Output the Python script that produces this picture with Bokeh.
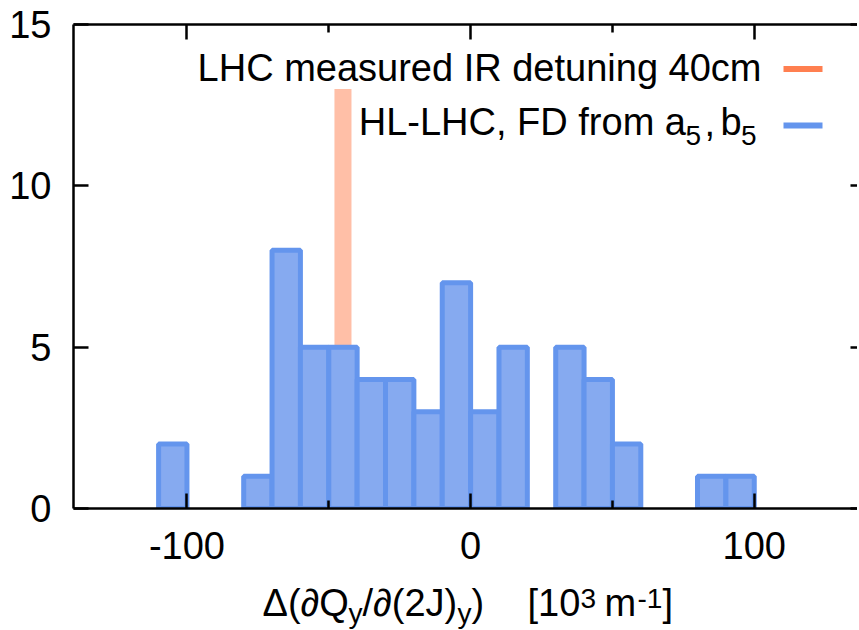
from bokeh.plotting import figure
from bokeh.layouts import column
from bokeh.models import LinearAxis, FixedTicker, Label, BoxAnnotation, Range1d
from bokeh.embed import file_html
from bokeh.resources import INLINE

# ---- data ----
bin_left = [-110, -80, -70, -60, -50, -40, -30, -20, -10, 0, 10, 30, 40, 50, 80, 90]
bin_right = [-100, -70, -60, -50, -40, -30, -20, -10, 0, 10, 20, 40, 50, 60, 90, 100]
counts = [2, 1, 8, 5, 5, 4, 4, 3, 7, 3, 5, 5, 4, 2, 1, 1]
lhc_detuning = [-45]
lhc_marker_height = [13]
x_major_ticks = [-100, 0, 100]
x_tick_labels = ["-100", "0", "100"]
x_minor_ticks = [-50, 50]
y_ticks = [0, 5, 10, 15]

FONT = "Liberation Sans"
BIG = "38px"
SMALL = "28px"
ORANGE = "#FF7F50"
BLUE_LINE = "#6495ED"
BLUE_FILL = "#86AAF0"

MAIN_H = 580
# vertical correction between requested and drawn baseline (px), per font size
SHIFT = {BIG: 13.5, SMALL: 10}

p = figure(frame_width=784, frame_height=484,
           x_range=Range1d(-140, 136.4), y_range=Range1d(0, 15),
           output_backend="svg", toolbar_location=None,
           x_axis_location=None, y_axis_location=None,
           min_border_left=73, min_border_top=24, min_border_bottom=MAIN_H - 508,
           min_border_right=0)
p.outline_line_color = None
p.background_fill_color = "white"
p.border_fill_color = "white"
for g in p.grid:
    g.visible = False


def style_axis(ax, show_labels, tick_in, minor_in, standoff, line=True):
    ax.axis_line_color = "black" if line else None
    ax.axis_line_width = 2.5
    ax.major_tick_in = tick_in
    ax.major_tick_out = 0
    ax.major_tick_line_width = 2.5
    ax.major_tick_line_color = "black"
    ax.minor_tick_in = minor_in
    ax.minor_tick_out = 0
    ax.minor_tick_line_width = 2.5
    ax.minor_tick_line_color = "black" if minor_in > 0 else None
    ax.major_label_text_font = FONT
    if show_labels:
        ax.major_label_text_color = "black"
        ax.major_label_text_font_size = BIG
        ax.major_label_standoff = standoff
    else:
        ax.major_label_text_color = None
        ax.major_label_text_font_size = "1px"
        ax.major_label_standoff = 0


xb = LinearAxis(ticker=FixedTicker(ticks=x_major_ticks, minor_ticks=x_minor_ticks),
                major_label_overrides=dict(zip(x_major_ticks, x_tick_labels)))
style_axis(xb, True, 15, 8, 23)
p.add_layout(xb, "below")

xt = LinearAxis(ticker=FixedTicker(ticks=x_major_ticks, minor_ticks=x_minor_ticks))
style_axis(xt, False, 15, 8, 0)
p.add_layout(xt, "above")

yl = LinearAxis(ticker=FixedTicker(ticks=y_ticks))
style_axis(yl, True, 15, 0, 22)
p.add_layout(yl, "left")

yr = LinearAxis(ticker=FixedTicker(ticks=y_ticks))
style_axis(yr, False, 7, 0, 0, line=False)
p.add_layout(yr, "right")

# ---- marks ----
p.vbar(x=lhc_detuning, top=lhc_marker_height, bottom=0, width=6,
       fill_color=ORANGE, fill_alpha=0.5, line_color=None)
p.quad(left=bin_left, right=bin_right, bottom=0, top=counts,
       fill_color=BLUE_FILL, line_color=BLUE_LINE, line_width=5)


def lab(fig, text, x, y, size=BIG, align="left"):
    fig.add_layout(Label(text=text, x=x, y=y + SHIFT[size], x_units="screen", y_units="screen",
                         text_font=FONT, text_font_size=size, text_color="black",
                         text_align=align, text_baseline="alphabetic"))


def key(bottom, color):
    p.add_layout(BoxAnnotation(left=710, right=749, bottom=bottom, top=bottom + 6,
                               left_units="screen", right_units="screen",
                               bottom_units="screen", top_units="screen",
                               fill_color=color, fill_alpha=1, line_color=None))


# ---- legend (frame-relative screen coords) ----
lab(p, "LHC measured IR detuning 40cm", 688, 427, align="right")
lab(p, "HL-LHC, FD from a", 612.5, 373, align="right")
lab(p, "5", 612, 363, size=SMALL)
lab(p, ",", 631, 373)
lab(p, "b", 647, 373)
lab(p, "5", 667.5, 363, size=SMALL)
key(436.5, ORANGE)
key(380, BLUE_LINE)

# ---- x-axis title: a strip below the plot (its frame is aligned with the plot's) ----
TITLE_H = 630 - MAIN_H
t = figure(width=859, height=TITLE_H, x_range=Range1d(0, 1), y_range=Range1d(0, 1),
           output_backend="svg", toolbar_location=None,
           x_axis_location=None, y_axis_location=None,
           min_border_left=73, min_border_right=0, min_border_top=0, min_border_bottom=0)
t.outline_line_color = None
t.background_fill_color = "white"
t.border_fill_color = "white"
for g in t.grid:
    g.visible = False

base = 630 - 616
sub = 630 - 623
sup = 630 - 608
X0 = 73
lab(t, "\u0394(\u2202Q", 262 - X0, base)
lab(t, "y", 348 - X0, sub, size=SMALL)
lab(t, "/\u2202(2J)", 362 - X0, base)
lab(t, "y", 457 - X0, sub, size=SMALL)
lab(t, ")", 471 - X0, base)
lab(t, "[10", 527 - X0, base)
lab(t, "3", 580 - X0, sup, size=SMALL)
lab(t, "m", 604 - X0, base)
lab(t, "-1", 637 - X0, sup, size=SMALL)
lab(t, "]", 662 - X0, base)

layout = column(p, t, spacing=0)
open("out.html", "w").write(file_html(layout, INLINE))
